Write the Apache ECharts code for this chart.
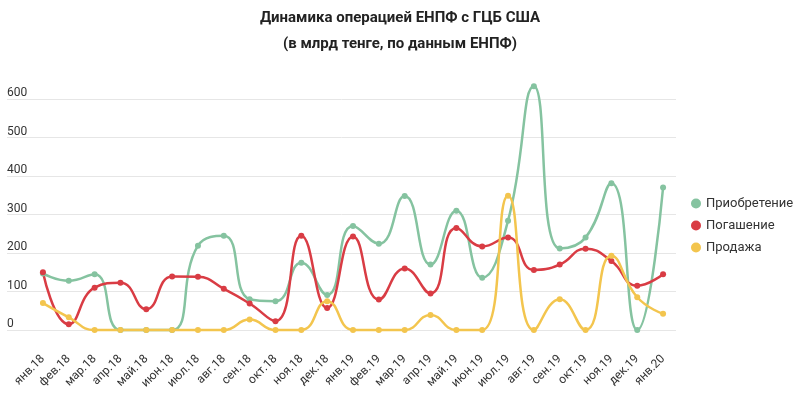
<!DOCTYPE html>
<html>
<head>
<meta charset="utf-8">
<script src="https://cdn.jsdelivr.net/npm/echarts@6/dist/echarts.min.js"></script>
<style>
  html, body { margin: 0; padding: 0; background: #fff; }
  #chart { width: 800px; height: 398px; }
</style>
</head>
<body>
<div id="chart"></div>
<script>
const months = [
  'янв.18', 'фев.18', 'мар.18', 'апр.18', 'май.18', 'июн.18', 'июл.18', 'авг.18', 'сен.18', 'окт.18', 'ноя.18', 'дек.18',
  'янв.19', 'фев.19', 'мар.19', 'апр.19', 'май.19', 'июн.19', 'июл.19', 'авг.19', 'сен.19', 'окт.19', 'ноя.19', 'дек.19',
  'янв.20'
]
const purchase = [147, 128, 145, 0, 0, 0, 219, 245, 80, 75, 175, 91, 270, 224, 348, 170, 310, 136, 284, 633, 212, 240, 381, 0, 370]
const redemption = [150, 15, 110, 123, 54, 139, 138, 107, 69, 23, 245, 57, 243, 79, 160, 95, 265, 217, 240, 156, 170, 211, 179, 115, 145]
const sale = [70, 33, 0, 0, 0, 0, 0, 0, 27, 0, 0, 75, 0, 0, 0, 39, 0, 0, 349, 0, 80, 0, 193, 85, 42]

const seriesNames = ['Приобретение', 'Погашение', 'Продажа']
const colors = ['#85c3a0', '#d93c44', '#f3c54e']

const chart = echarts.init(document.getElementById('chart'))

function lineSeries(name, data, color) {
  return {
    name,
    type: 'line',
    xAxisIndex: 0,
    yAxisIndex: 0,
    data,
    smooth: 0.5,
    clip: false,
    symbol: 'circle',
    symbolSize: 6,
    showSymbol: true,
    lineStyle: { color, width: 2.5 },
    itemStyle: { color },
    z: 3
  }
}

chart.setOption({
  animation: false,
  textStyle: { fontFamily: 'Roboto, sans-serif' },
  title: {
    text: 'Динамика операцией ЕНПФ с ГЦБ США\n(в млрд тенге, по данным ЕНПФ)',
    left: 'center',
    top: 0,
    textStyle: { fontSize: 15, fontWeight: 'bold', color: '#222', lineHeight: 26 }
  },
  legend: {
    orient: 'vertical',
    left: 686,
    top: 192,
    icon: 'circle',
    itemWidth: 10,
    itemHeight: 10,
    itemGap: 9,
    textStyle: { fontSize: 13, color: '#333' },
    data: seriesNames
  },
  grid: [
    { left: 30, right: 124, top: 99, bottom: 68 },
    { left: 7, right: 124, top: 99, bottom: 68 }
  ],
  xAxis: [
    {
      type: 'category',
      gridIndex: 0,
      data: months,
      boundaryGap: true,
      axisLine: { show: false },
      axisTick: { show: false },
      axisLabel: { rotate: 45, fontSize: 12, color: '#333', margin: 27, interval: 0 }
    },
    {
      type: 'value',
      gridIndex: 1,
      show: false
    }
  ],
  yAxis: [
    {
      type: 'value',
      gridIndex: 0,
      min: 0,
      max: 600,
      interval: 100,
      axisLine: { show: false },
      axisTick: { show: false },
      axisLabel: { show: false },
      splitLine: { show: false }
    },
    {
      type: 'value',
      gridIndex: 1,
      min: 0,
      max: 600,
      interval: 100,
      axisLine: { show: false },
      axisTick: { show: false },
      axisLabel: {
        inside: true,
        margin: 0,
        verticalAlign: 'bottom',
        lineHeight: 12,
        fontSize: 12,
        color: '#333'
      },
      splitLine: { lineStyle: { color: '#e6e6e6', width: 1 } }
    }
  ],
  series: [
    lineSeries(seriesNames[0], purchase, colors[0]),
    lineSeries(seriesNames[1], redemption, colors[1]),
    lineSeries(seriesNames[2], sale, colors[2])
  ]
})
</script>
</body>
</html>
